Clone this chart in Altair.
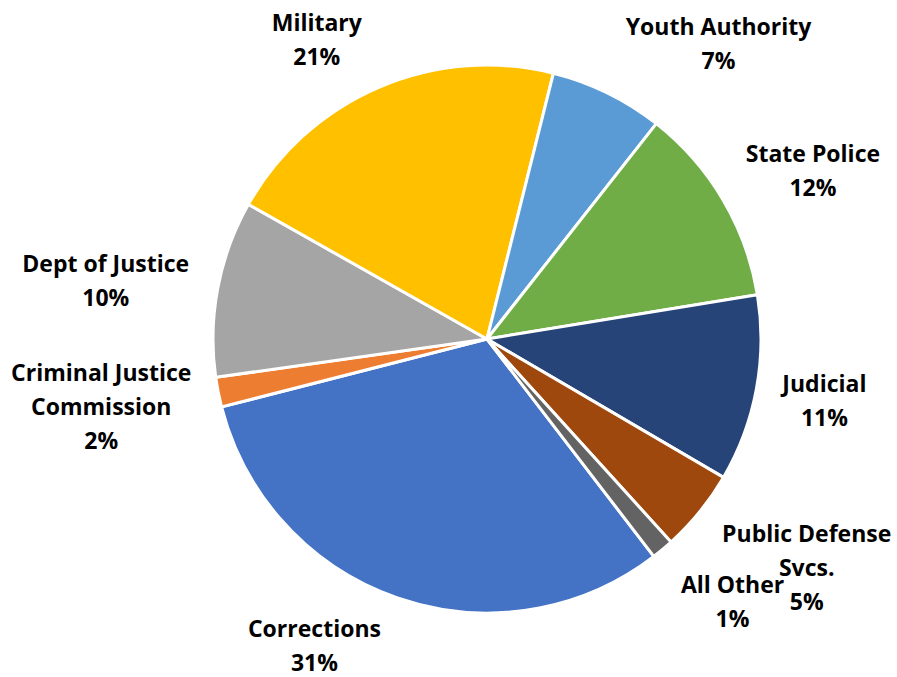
import math
import altair as alt
import pandas as pd

# ---- data ----
categories = [
    "Corrections",
    "Criminal Justice\nCommission",
    "Dept of Justice",
    "Military",
    "Youth Authority",
    "State Police",
    "Judicial",
    "Public Defense\nSvcs.",
    "All Other",
]
values = [31.4, 1.75, 10.4, 20.7, 6.7, 11.8, 11.0, 4.85, 1.3]
colors = ["#4472C4", "#ED7D31", "#A5A5A5", "#FFC000", "#5B9BD5",
          "#70AD47", "#264478", "#9E480E", "#636363"]

total = sum(values)
df = pd.DataFrame({
    "category": categories,
    "value": values,
    "order": list(range(len(categories))),
})
df["label"] = [f"{c}\n{round(v / total * 100)}%" for c, v in zip(categories, values)]

# ---- layout ----
START = math.radians(142.5)
R = 274
theta_scale = alt.Scale(domain=[0, total], range=[START, START + 2 * math.pi])
FONT = "Open Sans"

# label offsets from the slice's outer mid-point (layout only)
label_offsets = [
    (-83, 39),    # Corrections
    (-117, -11),  # Criminal Justice Commission
    (-112, -16),  # Dept of Justice
    (-62, -56),   # Military
    (111, -58),   # Youth Authority
    (90, -38),    # State Police
    (68, 3),      # Judicial
    (107, 30),    # Public Defense Svcs.
    (70, 44),     # All Other
]

base = alt.Chart(df).transform_stack(
    stack="value", groupby=[], as_=["v0", "v1"], sort=[alt.SortField("order")]
)

arcs = base.mark_arc(radius=R, stroke="white", strokeWidth=3).encode(
    theta=alt.Theta("v0:Q", scale=theta_scale),
    theta2="v1:Q",
    color=alt.Color("category:N", scale=alt.Scale(domain=categories, range=colors), legend=None),
)

texts = []
for i, (dx, dy) in enumerate(label_offsets):
    t = (
        base.transform_calculate(mid="(datum.v0 + datum.v1) / 2")
        .transform_filter(alt.datum.order == i)
        .mark_text(
            radius=R, dx=dx, dy=dy, font=FONT, fontSize=23, fontWeight="bold",
            lineBreak="\n", lineHeight=34, align="center", baseline="alphabetic",
            color="#000000",
        )
        .encode(theta=alt.Theta("mid:Q", scale=theta_scale), text="label:N")
    )
    texts.append(t)

chart = (
    alt.layer(arcs, *texts)
    .properties(
        width=820, height=676,
        padding={"left": 77, "top": 1, "right": 0, "bottom": 0},
        autosize="none",
    )
    .configure_view(stroke=None)
)

chart.save("out.html", embed_options={"renderer": "svg", "actions": False})
